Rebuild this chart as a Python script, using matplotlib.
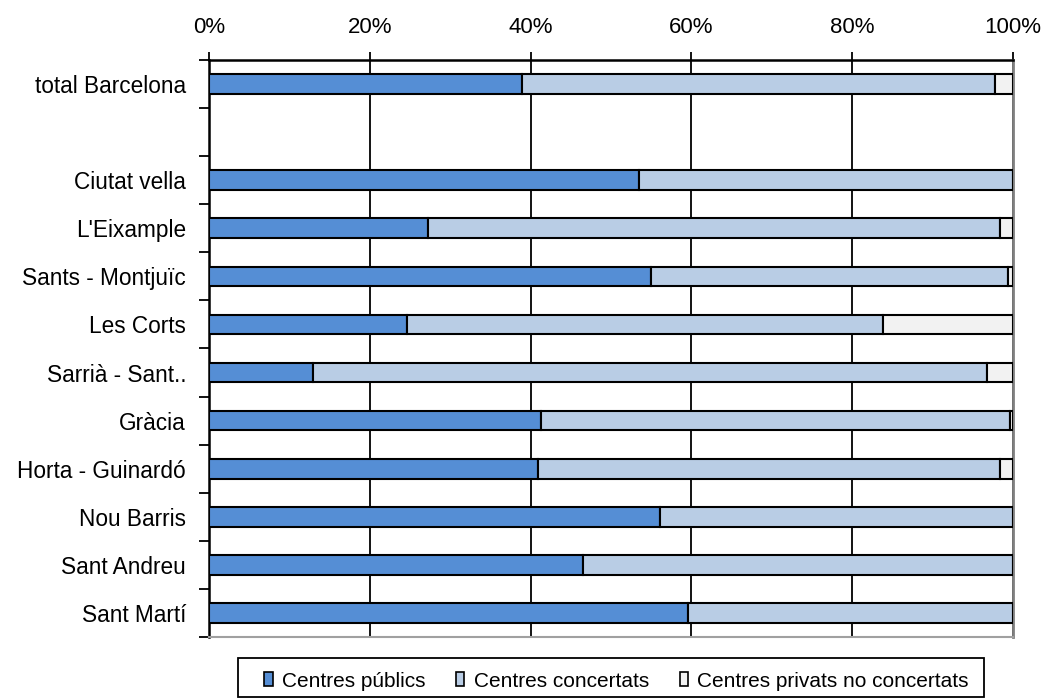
import numpy as np
import matplotlib.pyplot as plt
from matplotlib.patches import Rectangle

plt.rcParams["font.family"] = ["Liberation Sans", "DejaVu Sans"]

districts = [
    "total Barcelona",
    "",
    "Ciutat vella",
    "L'Eixample",
    "Sants - Montjuïc",
    "Les Corts",
    "Sarrià - Sant..",
    "Gràcia",
    "Horta - Guinardó",
    "Nou Barris",
    "Sant Andreu",
    "Sant Martí",
]
# percentages (empty row is a spacer)
publics = [38.9, 0, 53.5, 27.2, 55.0, 24.6, 12.9, 41.3, 40.9, 56.1, 46.5, 59.6]
concertats = [58.9, 0, 46.5, 71.2, 44.4, 59.2, 83.9, 58.3, 57.5, 43.9, 53.5, 40.4]
privats = [2.2, 0, 0.0, 1.6, 0.6, 16.2, 3.2, 0.4, 1.6, 0.0, 0.0, 0.0]

series_names = ["Centres públics", "Centres concertats", "Centres privats no concertats"]
colors = ["#558ED5", "#B9CDE5", "#F2F2F2"]


def main():
    fig = plt.figure(figsize=(10.47, 7), dpi=100)
    ax = fig.add_axes([0.1996, 0.09, 0.7679, 0.8243])

    y = np.arange(len(districts))
    mask = np.array([d != "" for d in districts])
    left = np.zeros(len(districts))
    for vals, name, col in zip([publics, concertats, privats], series_names, colors):
        vals = np.array(vals)
        ax.barh(y[mask], vals[mask], left=left[mask], height=0.41, color=col,
                edgecolor="black", linewidth=1.5, label=name, zorder=3)
        left += vals

    ax.set_xlim(0, 100)
    ax.set_ylim(len(districts) - 0.5, -0.5)
    ax.set_xticks(np.arange(0, 101, 20))
    ax.set_xticklabels([f"{v}%" for v in range(0, 101, 20)])
    ax.xaxis.tick_top()
    ax.tick_params(axis="x", length=6, width=1.3, labelsize=16, pad=10)
    ax.grid(axis="x", color="black", linewidth=1.3, zorder=0)

    ax.set_yticks(y)
    ax.set_yticklabels(districts)
    ax.tick_params(axis="y", length=0, labelsize=16.3, pad=16.5)
    ax.set_yticks(np.arange(-0.5, len(districts)), minor=True)
    ax.tick_params(axis="y", which="minor", length=7, width=1.3)

    ax.spines["left"].set_linewidth(1.8)
    ax.spines["top"].set_linewidth(1.8)
    ax.spines["right"].set_color("#808080")
    ax.spines["right"].set_linewidth(2)
    ax.spines["bottom"].set_color("#A0A0A0")
    ax.spines["bottom"].set_linewidth(1.5)

    # legend entries spread over the box, frame drawn separately
    leg = fig.legend(loc="lower left", bbox_to_anchor=(258 / 1047, 3 / 700, 717 / 1047, 39 / 700),
                     mode="expand", ncol=3, fontsize=15, frameon=False,
                     handlelength=0.4, handleheight=0.65, handletextpad=0.45,
                     columnspacing=1.0, borderpad=0.3, borderaxespad=0)
    for h in leg.legend_handles:
        h.set_linewidth(1.2)
    fig.patches.append(Rectangle((238 / 1047, 3 / 700), 746 / 1047, 39 / 700,
                                 transform=fig.transFigure, fill=False,
                                 edgecolor="black", linewidth=1.3))

    fig.savefig("out.png", dpi=100)


if __name__ == "__main__":
    main()
